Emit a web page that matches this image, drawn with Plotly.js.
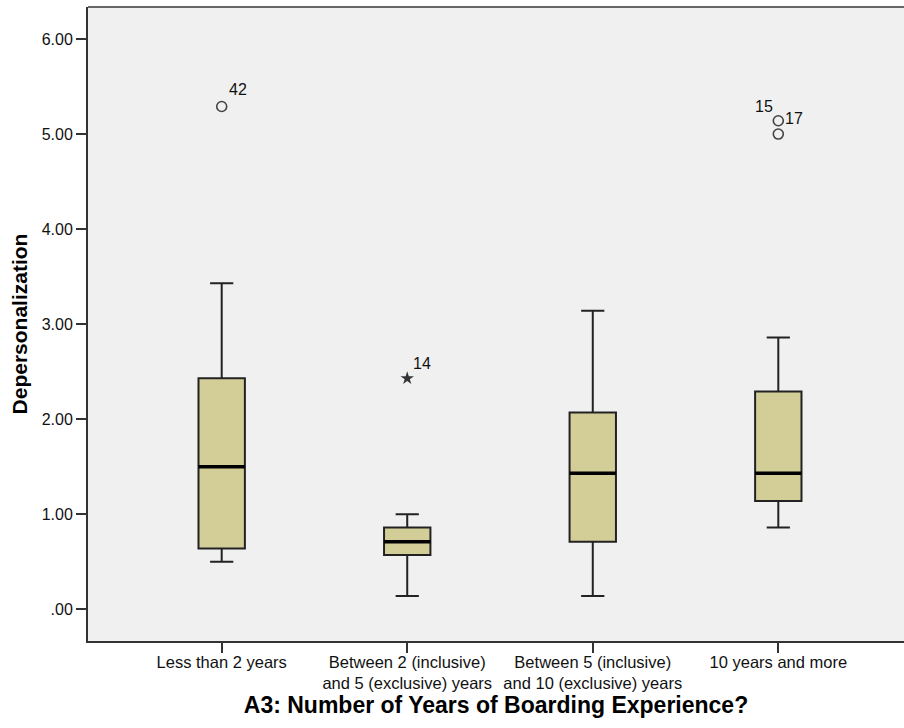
<!DOCTYPE html>
<html>
<head>
<meta charset="utf-8">
<script src="https://cdn.plot.ly/plotly-3.0.1.min.js"></script>
<style>
  html, body { margin: 0; padding: 0; background: #ffffff; overflow: hidden; }
  #chart { width: 904px; height: 728px; }
</style>
</head>
<body>
<div id="chart"></div>
<script>
// ---- data ----
const categories = [
  "Less than 2 years",
  "Between 2 (inclusive)<br>and 5 (exclusive) years",
  "Between 5 (inclusive)<br>and 10 (exclusive) years",
  "10 years and more"
];
const lowerWhisker = [0.50, 0.14, 0.14, 0.86];
const q1Values     = [0.64, 0.57, 0.71, 1.14];
const medians      = [1.50, 0.71, 1.43, 1.43];
const q3Values     = [2.43, 0.86, 2.07, 2.29];
const upperWhisker = [3.43, 1.00, 3.14, 2.86];

// outliers (circles) and extremes (stars): group index, value, case label
const outlierGroup  = [0, 3, 3];
const outlierValue  = [5.29, 5.14, 5.00];
const outlierLabel  = ["42", "15", "17"];
const extremeGroup  = [1];
const extremeValue  = [2.43];
const extremeLabel  = ["14"];

const yTickValues = [0, 1, 2, 3, 4, 5, 6];
const yTickLabels = [".00", "1.00", "2.00", "3.00", "4.00", "5.00", "6.00"];

// ---- styling ----
const positions = categories.map((_, i) => i);
const boxWidth = 0.25;
const outlierShift = { "42": [16, 17], "15": [-14, 14], "17": [16, 16], "14": [15, 15] };
const font = "Arial, 'Liberation Sans', sans-serif";

const traces = [];
traces.push({
  type: "box",
  x: positions,
  q1: q1Values,
  median: medians,
  q3: q3Values,
  lowerfence: lowerWhisker,
  upperfence: upperWhisker,
  width: boxWidth,
  whiskerwidth: 0.5,
  boxpoints: false,
  fillcolor: "#D3CE97",
  line: { color: "#222222", width: 2 },
  hoverinfo: "skip",
  showlegend: false
});
// thick median lines
positions.forEach((p, i) => {
  traces.push({
    type: "scatter", mode: "lines",
    x: [p - boxWidth / 2, p + boxWidth / 2],
    y: [medians[i], medians[i]],
    line: { color: "#000000", width: 3.5 },
    hoverinfo: "skip", showlegend: false
  });
});
traces.push({
  type: "scatter", mode: "markers",
  x: outlierGroup, y: outlierValue,
  marker: { symbol: "circle-open", size: 10, color: "#444444", line: { width: 1.6, color: "#444444" } },
  hoverinfo: "skip", showlegend: false
});
traces.push({
  type: "scatter", mode: "markers",
  x: extremeGroup, y: extremeValue,
  marker: { symbol: "star", size: 10, color: "#333333", line: { width: 0 } },
  hoverinfo: "skip", showlegend: false
});

const annotations = [];
function addLabels(groups, values, labels) {
  groups.forEach((g, i) => {
    const s = outlierShift[labels[i]] || [15, 15];
    annotations.push({
      x: g, y: values[i], xref: "x", yref: "y",
      text: labels[i], showarrow: false,
      xanchor: "center", yanchor: "middle",
      xshift: s[0], yshift: s[1],
      font: { family: font, size: 16, color: "#111111" }
    });
  });
}
addLabels(outlierGroup, outlierValue, outlierLabel);
addLabels(extremeGroup, extremeValue, extremeLabel);

const layout = {
  width: 904, height: 728,
  margin: { l: 88, r: 0, t: 7, b: 87, pad: 0 },
  paper_bgcolor: "#ffffff",
  plot_bgcolor: "#F0F0F0",
  showlegend: false,
  xaxis: {
    range: [-0.7206, 3.6775],
    tickvals: positions,
    ticktext: categories,
    ticks: "outside", ticklen: 10, tickwidth: 2, tickcolor: "#333333",
    ticklabelstandoff: -5,
    showline: true, linecolor: "#333333", linewidth: 2,
    showgrid: false, zeroline: false,
    tickfont: { family: font, size: 16.5, color: "#111111" },
    title: {
      text: "A3: Number of Years of Boarding Experience?",
      font: { family: font, size: 23, color: "#000000", weight: "bold" },
      standoff: 0
    }
  },
  yaxis: {
    range: [-0.334, 6.337],
    tickvals: yTickValues,
    ticktext: yTickLabels,
    ticks: "outside", ticklen: 10, tickwidth: 2, tickcolor: "#333333",
    showline: true, linecolor: "#333333", linewidth: 2,
    showgrid: false, zeroline: false,
    tickfont: { family: font, size: 16, color: "#111111" },
    title: {
      text: "Depersonalization",
      font: { family: font, size: 21, color: "#000000", weight: "bold" },
      standoff: 8
    }
  },
  shapes: [{
    type: "line", xref: "paper", yref: "paper",
    x0: 0, x1: 1, y0: 1, y1: 1,
    line: { color: "#666666", width: 2 }
  }],
  annotations: annotations
};

Plotly.newPlot("chart", traces, layout, { staticPlot: true, displayModeBar: false });
</script>
</body>
</html>
